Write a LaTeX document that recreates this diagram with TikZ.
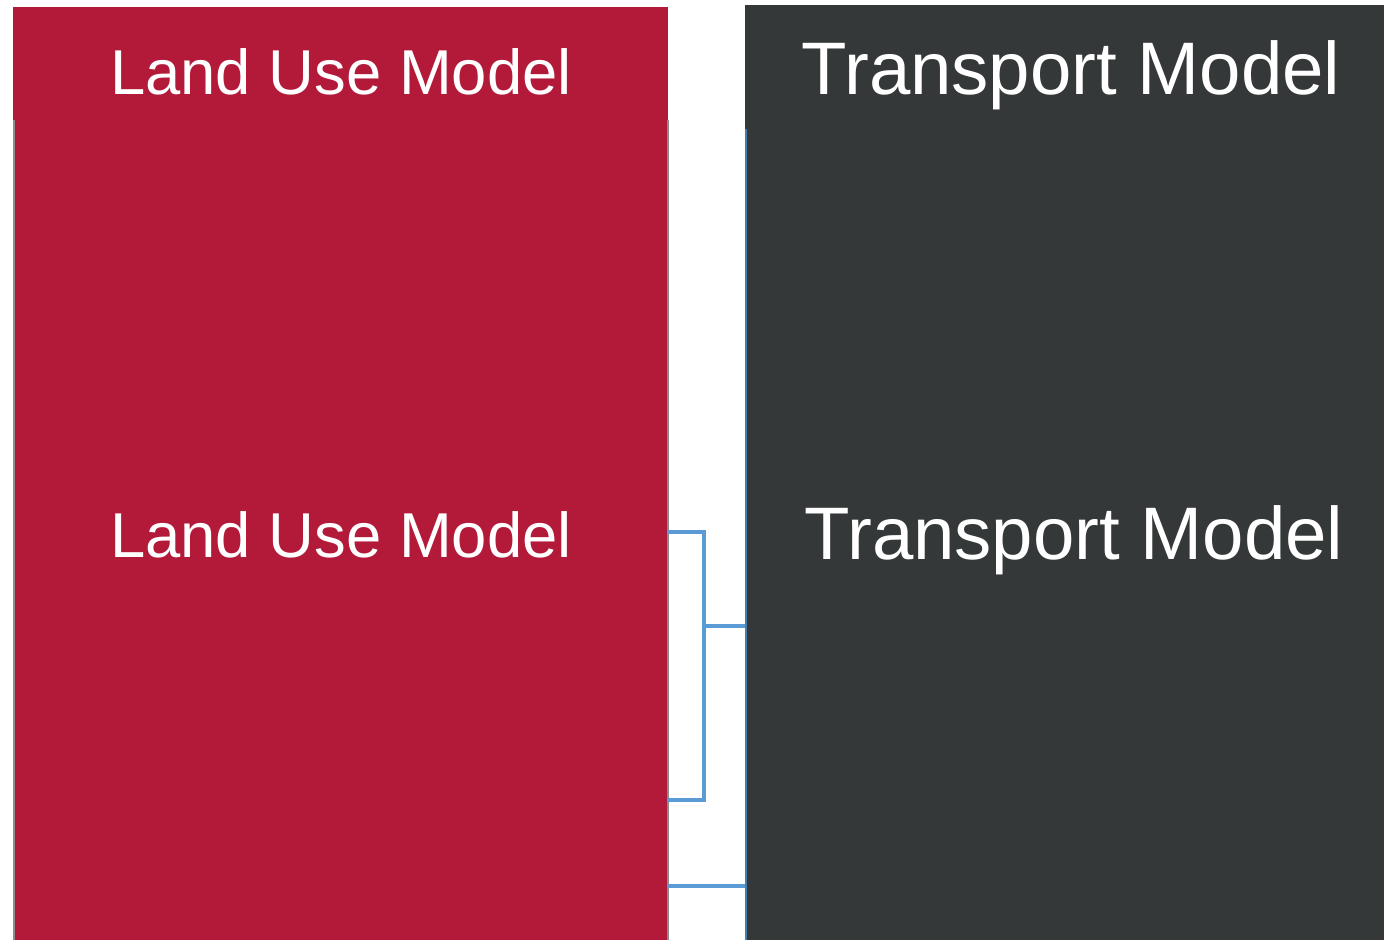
\documentclass[tikz,border=0pt]{standalone}
\usepackage{fontspec}
\setmainfont{Liberation Sans}
\definecolor{luRed}{HTML}{B31939}
\definecolor{tmDark}{HTML}{353839}
\definecolor{linkBlue}{HTML}{5B9BD5}
\definecolor{edgeGray}{HTML}{8C8C8C}
\begin{document}
\begin{tikzpicture}[x=0.5pt,y=-0.5pt,
  lutext/.style={text=white,font=\fontsize{31.7}{36}\selectfont,inner sep=0pt},
  tmtext/.style={text=white,font=\fontsize{37.2}{42}\selectfont,inner sep=0pt},
  link/.style={draw=linkBlue,line width=2pt}]
\useasboundingbox (0,0) rectangle (1384,940);
% panels
\fill[luRed] (13,7) rectangle (668,940);
\fill[tmDark] (745,5) rectangle (1384,940);
\draw[edgeGray,line width=1.2pt] (14,120) -- (14,940);
\draw[edgeGray,line width=1.2pt] (668,120) -- (668,940);
\draw[linkBlue!80!black,line width=1.2pt] (746,129) -- (746,940);
% text nodes
\node[lutext] (lutitle) at (341,72) {Land Use Model};
\node[lutext] (lumid) at (341,535) {Land Use Model};
\node[tmtext] (tmtitle) at (1071,75) {Transport Model};
\node[tmtext] (tmmid) at (1074,540) {Transport Model};
% connector coordinates
\coordinate (a1) at (668,532);
\coordinate (a2) at (704,532);
\coordinate (a3) at (704,800);
\coordinate (a4) at (668,800);
\coordinate (j) at (704,626);
\coordinate (b) at (745,626);
\coordinate (c1) at (668,886);
\coordinate (c2) at (745,886);
\draw[link] (a1) -- (a2) -- (a3) -- (a4);
\draw[link] (j) -- (b);
\draw[link] (c1) -- (c2);
\end{tikzpicture}
\end{document}
